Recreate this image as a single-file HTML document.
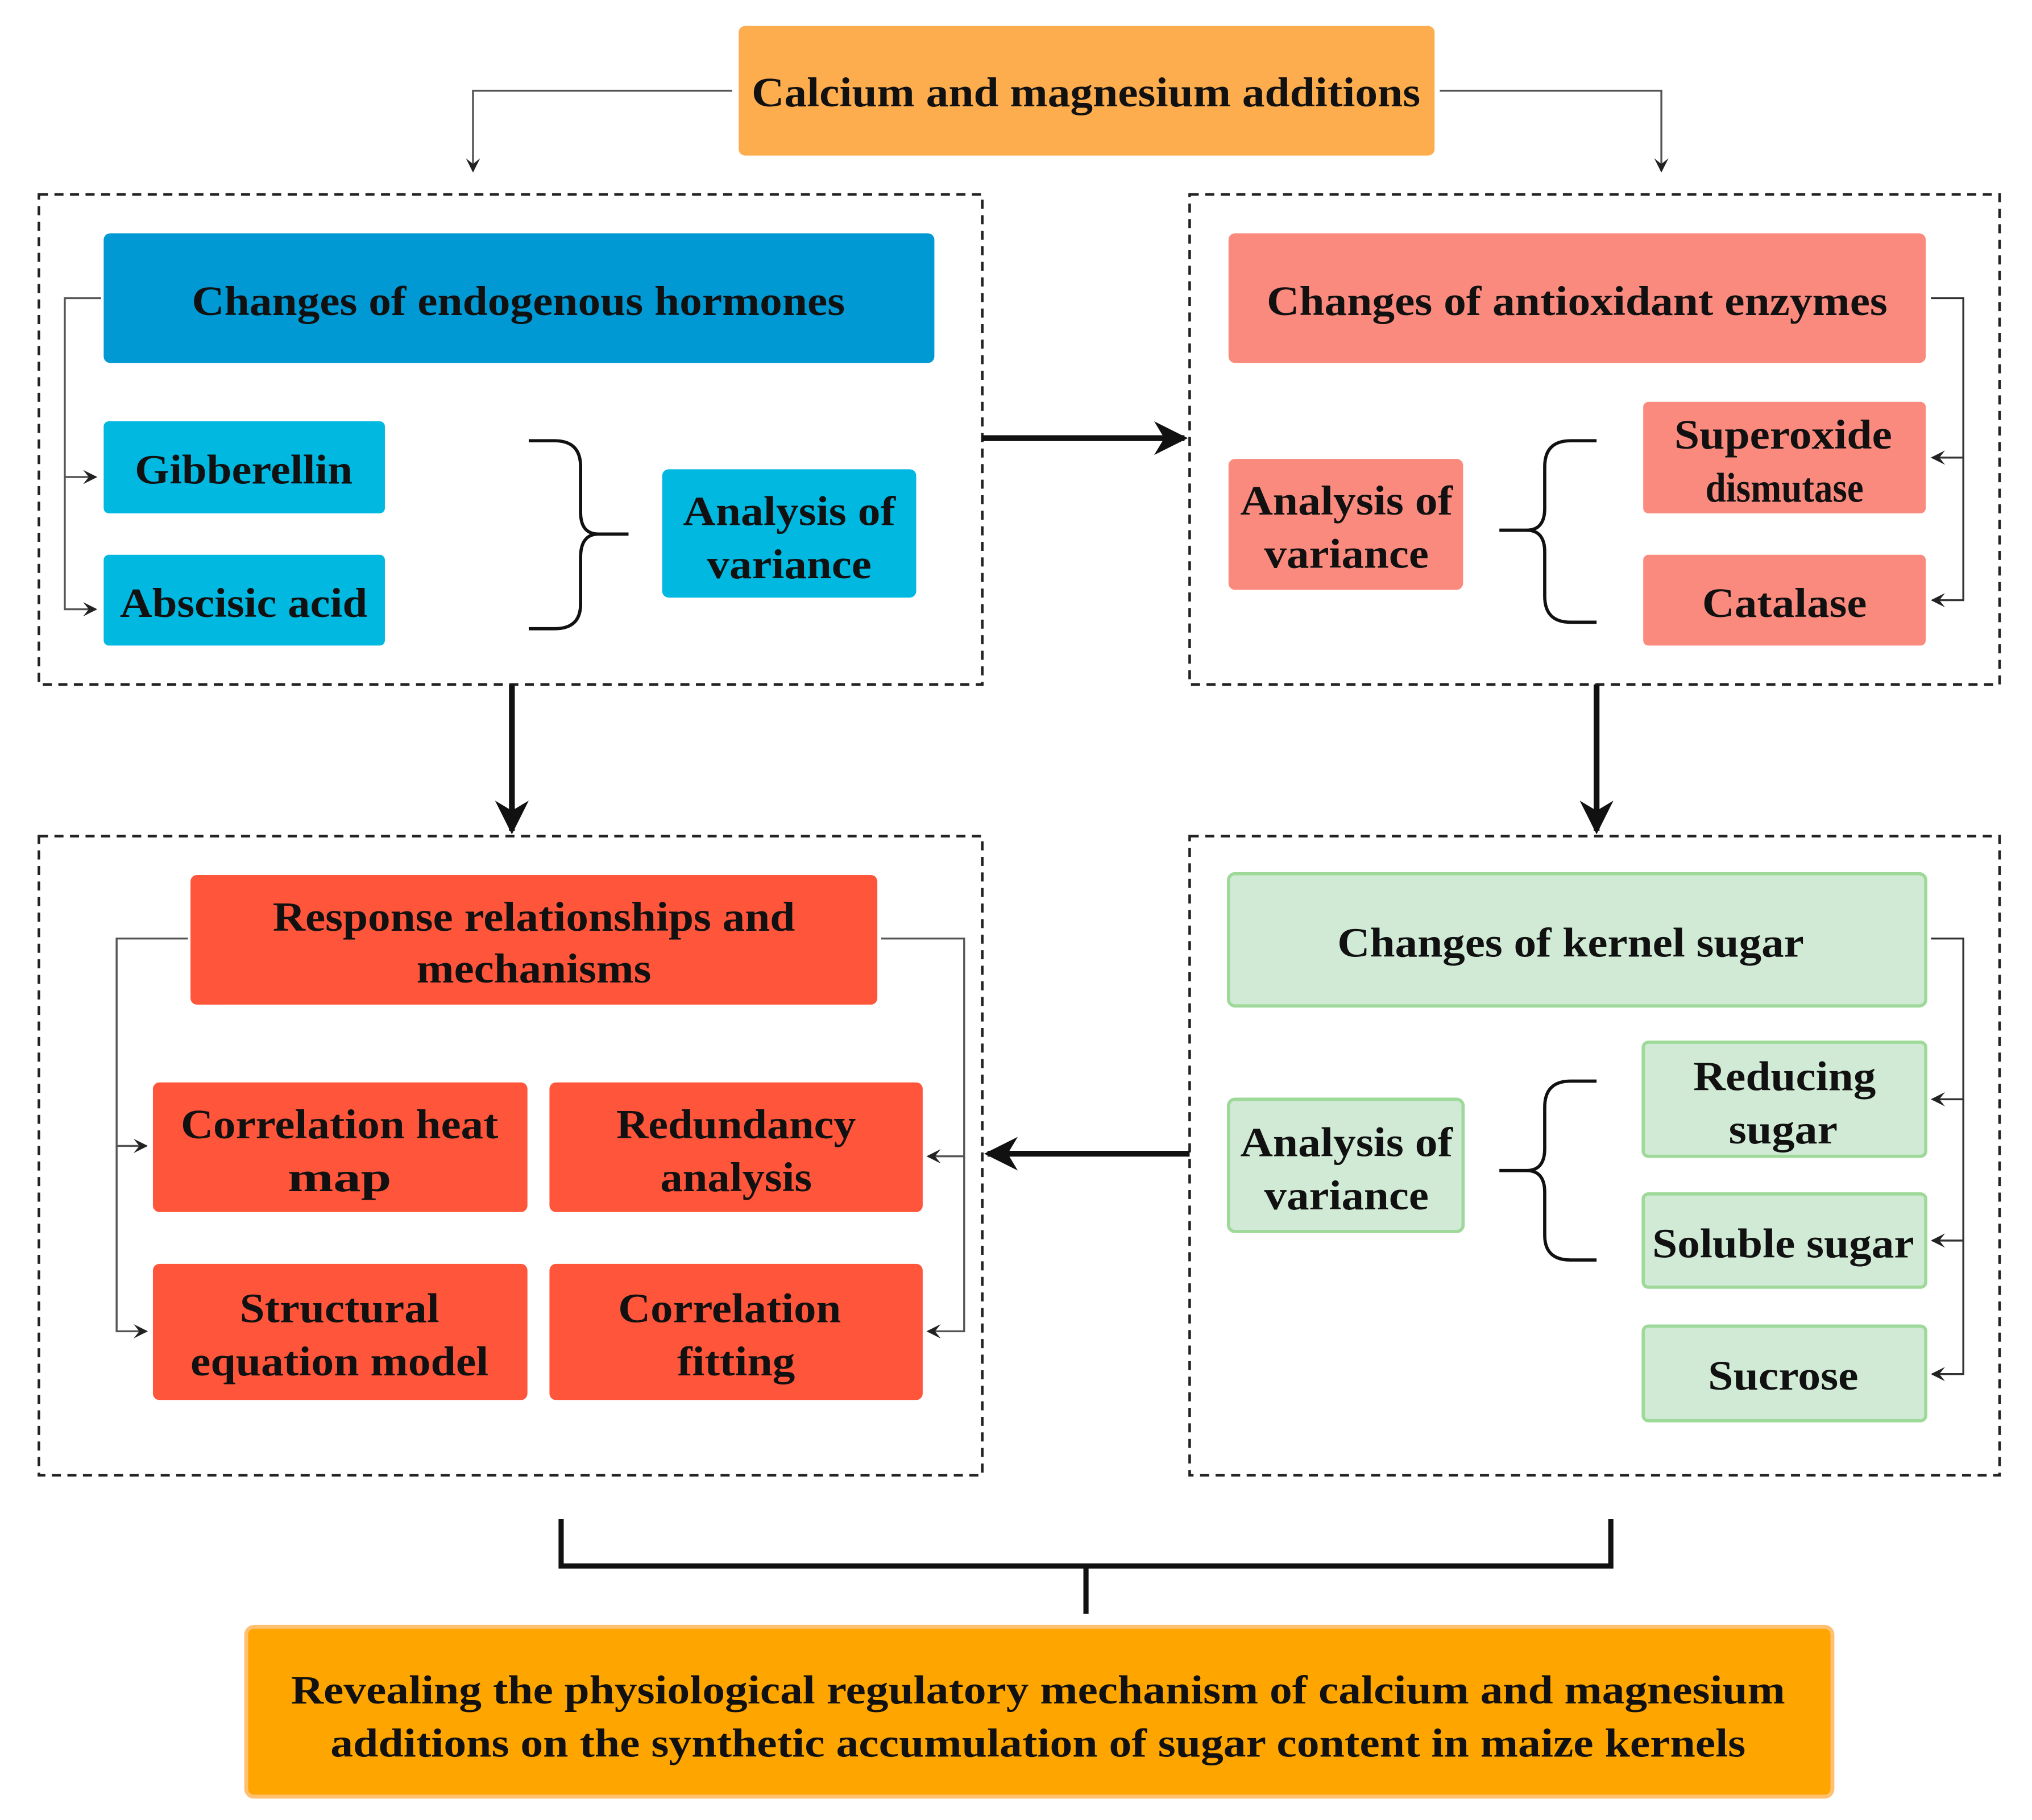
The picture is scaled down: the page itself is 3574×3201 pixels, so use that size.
<!DOCTYPE html>
<html><head><meta charset="utf-8"><style>
html,body{margin:0;padding:0;background:#fff;}
svg{display:block;}
text{font-family:"Liberation Serif","Times New Roman",serif;font-weight:bold;fill:#111;text-anchor:middle;}
</style></head><body>
<svg width="3574" height="3201" viewBox="0 0 1568 1404" preserveAspectRatio="none" xmlns="http://www.w3.org/2000/svg">
<defs>
<marker id="a" viewBox="0 0 10 10" refX="9" refY="5" markerWidth="11" markerHeight="11" orient="auto" markerUnits="userSpaceOnUse"><path d="M0,0 L10,5 L0,10 L4,5 z" fill="#222"/></marker>
<marker id="c" viewBox="0 0 10 10" refX="9" refY="5" markerWidth="26" markerHeight="26" orient="auto" markerUnits="userSpaceOnUse"><path d="M0,0 L10,5 L0,10 L3,5 z" fill="#111"/></marker>
</defs>

<rect x="570" y="20" width="537" height="100" rx="5" fill="#FDAD4E"/>
<text x="838" y="82" font-size="32" textLength="516" lengthAdjust="spacingAndGlyphs">Calcium and magnesium additions</text>
<path d="M565 70 H365 V132" fill="none" stroke="#555" stroke-width="1.5" marker-end="url(#a)"/>
<path d="M1111 70 H1282 V132" fill="none" stroke="#555" stroke-width="1.5" marker-end="url(#a)"/>

<g fill="none" stroke="#222" stroke-width="2" stroke-dasharray="7,5">
<rect x="30" y="150" width="728" height="378"/>
<rect x="918" y="150" width="625" height="378"/>
<rect x="30" y="645" width="728" height="493"/>
<rect x="918" y="645" width="625" height="493"/>
</g>

<!-- TL -->
<rect x="80" y="180" width="641" height="100" rx="5" fill="#0099D4"/>
<text x="400" y="243" font-size="32" textLength="504" lengthAdjust="spacingAndGlyphs">Changes of endogenous hormones</text>
<rect x="80" y="325" width="217" height="71" rx="4" fill="#00B8E0"/>
<text x="188" y="373" font-size="32" textLength="168" lengthAdjust="spacingAndGlyphs">Gibberellin</text>
<rect x="80" y="428" width="217" height="70" rx="4" fill="#00B8E0"/>
<text x="188" y="476" font-size="32" textLength="191" lengthAdjust="spacingAndGlyphs">Abscisic acid</text>
<rect x="511" y="362" width="196" height="99" rx="5" fill="#00B8E0"/>
<text x="609" y="405" font-size="32" textLength="164" lengthAdjust="spacingAndGlyphs">Analysis of</text>
<text x="609" y="446" font-size="32" textLength="127" lengthAdjust="spacingAndGlyphs">variance</text>
<path d="M408 340 H428 Q448 340 448 360 V395 Q448 412 462 412 H485 M462 412 Q448 412 448 430 V466 Q448 485 428 485 H408" fill="none" stroke="#111" stroke-width="2.5"/>
<path d="M78 230 H50 V368 H74" fill="none" stroke="#555" stroke-width="1.5" marker-end="url(#a)"/>
<path d="M50 368 V470 H74" fill="none" stroke="#555" stroke-width="1.5" marker-end="url(#a)"/>

<!-- TR -->
<rect x="948" y="180" width="538" height="100" rx="5" fill="#FA8A7E"/>
<text x="1217" y="243" font-size="32" textLength="479" lengthAdjust="spacingAndGlyphs">Changes of antioxidant enzymes</text>
<rect x="948" y="354" width="181" height="101" rx="5" fill="#FA8A7E"/>
<text x="1039" y="397" font-size="32" textLength="164" lengthAdjust="spacingAndGlyphs">Analysis of</text>
<text x="1039" y="438" font-size="32" textLength="127" lengthAdjust="spacingAndGlyphs">variance</text>
<rect x="1268" y="310" width="218" height="86" rx="4" fill="#FA8A7E"/>
<text x="1376" y="346" font-size="32" textLength="168" lengthAdjust="spacingAndGlyphs">Superoxide</text>
<text x="1377" y="387" font-size="32" textLength="122" lengthAdjust="spacingAndGlyphs">dismutase</text>
<rect x="1268" y="428" width="218" height="70" rx="4" fill="#FA8A7E"/>
<text x="1377" y="476" font-size="32" textLength="127" lengthAdjust="spacingAndGlyphs">Catalase</text>
<path d="M1232 340 H1212 Q1192 340 1192 360 V392 Q1192 409 1178 409 H1157 M1178 409 Q1192 409 1192 426 V460 Q1192 480 1212 480 H1232" fill="none" stroke="#111" stroke-width="2.5"/>
<path d="M1490 230 H1515 V353 H1491" fill="none" stroke="#333" stroke-width="1.5" marker-end="url(#a)"/>
<path d="M1515 353 V463 H1491" fill="none" stroke="#333" stroke-width="1.5" marker-end="url(#a)"/>

<!-- BL -->
<rect x="147" y="675" width="530" height="100" rx="5" fill="#FF553B"/>
<text x="412" y="718" font-size="32" textLength="403" lengthAdjust="spacingAndGlyphs">Response relationships and</text>
<text x="412" y="758" font-size="32" textLength="181" lengthAdjust="spacingAndGlyphs">mechanisms</text>
<rect x="118" y="835" width="289" height="100" rx="5" fill="#FF553B"/>
<text x="262" y="878" font-size="32" textLength="245" lengthAdjust="spacingAndGlyphs">Correlation heat</text>
<text x="262" y="919" font-size="32" textLength="80" lengthAdjust="spacingAndGlyphs">map</text>
<rect x="424" y="835" width="288" height="100" rx="5" fill="#FF553B"/>
<text x="568" y="878" font-size="32" textLength="185" lengthAdjust="spacingAndGlyphs">Redundancy</text>
<text x="568" y="919" font-size="32" textLength="117" lengthAdjust="spacingAndGlyphs">analysis</text>
<rect x="118" y="975" width="289" height="105" rx="5" fill="#FF553B"/>
<text x="262" y="1020" font-size="32" textLength="154" lengthAdjust="spacingAndGlyphs">Structural</text>
<text x="262" y="1061" font-size="32" textLength="230" lengthAdjust="spacingAndGlyphs">equation model</text>
<rect x="424" y="975" width="288" height="105" rx="5" fill="#FF553B"/>
<text x="563" y="1020" font-size="32" textLength="172" lengthAdjust="spacingAndGlyphs">Correlation</text>
<text x="568" y="1061" font-size="32" textLength="91" lengthAdjust="spacingAndGlyphs">fitting</text>
<path d="M145 724 H90 V884 H113" fill="none" stroke="#555" stroke-width="1.5" marker-end="url(#a)"/>
<path d="M90 884 V1027 H113" fill="none" stroke="#555" stroke-width="1.5" marker-end="url(#a)"/>
<path d="M680 724 H744 V892 H716" fill="none" stroke="#555" stroke-width="1.5" marker-end="url(#a)"/>
<path d="M744 892 V1027 H716" fill="none" stroke="#555" stroke-width="1.5" marker-end="url(#a)"/>

<!-- BR -->
<rect x="948" y="674" width="538" height="102" rx="5" fill="#D0EAD5" stroke="#9ED99A" stroke-width="2.5"/>
<text x="1212" y="738" font-size="32" textLength="360" lengthAdjust="spacingAndGlyphs">Changes of kernel sugar</text>
<rect x="948" y="848" width="181" height="102" rx="5" fill="#D0EAD5" stroke="#9ED99A" stroke-width="2.5"/>
<text x="1039" y="892" font-size="32" textLength="164" lengthAdjust="spacingAndGlyphs">Analysis of</text>
<text x="1039" y="933" font-size="32" textLength="127" lengthAdjust="spacingAndGlyphs">variance</text>
<rect x="1268" y="804" width="218" height="88" rx="4" fill="#D0EAD5" stroke="#9ED99A" stroke-width="2.5"/>
<text x="1377" y="841" font-size="32" textLength="141" lengthAdjust="spacingAndGlyphs">Reducing</text>
<text x="1376" y="882" font-size="32" textLength="84" lengthAdjust="spacingAndGlyphs">sugar</text>
<rect x="1268" y="921" width="218" height="72" rx="4" fill="#D0EAD5" stroke="#9ED99A" stroke-width="2.5"/>
<text x="1376" y="970" font-size="32" textLength="202" lengthAdjust="spacingAndGlyphs">Soluble sugar</text>
<rect x="1268" y="1023" width="218" height="73" rx="4" fill="#D0EAD5" stroke="#9ED99A" stroke-width="2.5"/>
<text x="1376" y="1072" font-size="32" textLength="116" lengthAdjust="spacingAndGlyphs">Sucrose</text>
<path d="M1232 834 H1212 Q1192 834 1192 854 V886 Q1192 903 1178 903 H1157 M1178 903 Q1192 903 1192 920 V953 Q1192 972 1212 972 H1232" fill="none" stroke="#111" stroke-width="2.5"/>
<path d="M1490 724 H1515 V848 H1491" fill="none" stroke="#333" stroke-width="1.5" marker-end="url(#a)"/>
<path d="M1515 848 V957 H1491" fill="none" stroke="#333" stroke-width="1.5" marker-end="url(#a)"/>
<path d="M1515 957 V1060 H1491" fill="none" stroke="#333" stroke-width="1.5" marker-end="url(#a)"/>

<path d="M758 338 H914" stroke="#111" stroke-width="4.5" marker-end="url(#c)"/>
<path d="M395 528 V641" stroke="#111" stroke-width="4.5" marker-end="url(#c)"/>
<path d="M1232 528 V641" stroke="#111" stroke-width="4.5" marker-end="url(#c)"/>
<path d="M918 890 H762" stroke="#111" stroke-width="4.5" marker-end="url(#c)"/>

<path d="M433 1172 V1208 H1243 V1172 M838 1208 V1245" fill="none" stroke="#111" stroke-width="4"/>

<rect x="190" y="1255" width="1224" height="131" rx="6" fill="#FFA500" stroke="#FFC070" stroke-width="3"/>
<text x="801" y="1314" font-size="31" textLength="1153" lengthAdjust="spacingAndGlyphs">Revealing the physiological regulatory mechanism of calcium and magnesium</text>
<text x="801" y="1355" font-size="31" textLength="1092" lengthAdjust="spacingAndGlyphs">additions on the synthetic accumulation of sugar content in maize kernels</text>
</svg>
</body></html>
